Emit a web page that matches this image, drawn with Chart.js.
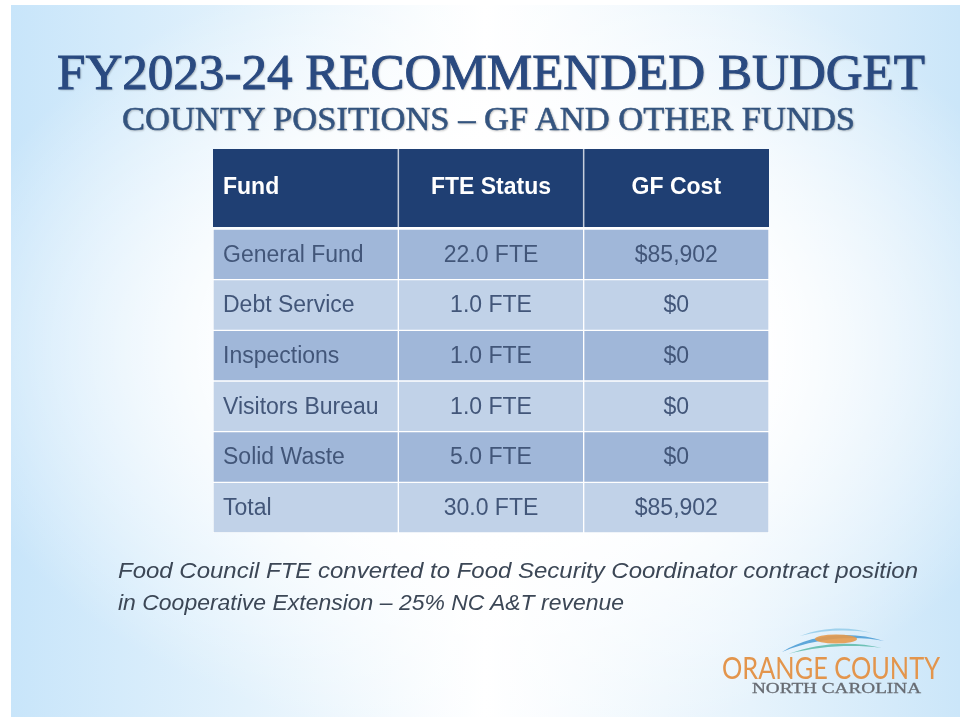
<!DOCTYPE html>
<html>
<head>
<meta charset="utf-8">
<script src="https://cdn.jsdelivr.net/npm/chart.js@4.4.1/dist/chart.umd.min.js"></script>
<style>
  html, body { margin: 0; padding: 0; background: #fff; }
  #page { position: relative; width: 960px; height: 717px; overflow: hidden; }
  #slide {
    position: absolute; left: 11px; top: 5px; width: 949px; height: 712px;
    background:
      radial-gradient(ellipse 60% 56% at 52% 48%, rgba(255,255,255,1) 45%, rgba(255,255,255,0) 100%),
      linear-gradient(90deg, #c8e5fa 0%, #e3f2fc 25%, #ffffff 50%, #e6f3fc 78%, #cbe6f9 100%);
  }
  canvas { position: absolute; left: 0; top: 0; }
  .txt { position: absolute; white-space: nowrap; line-height: 1; transform-origin: 0 0; }
  .title { font-family: "Liberation Serif", "Times New Roman", serif; font-weight: normal; color: #2a4a80;
           -webkit-text-stroke: 0.9px #2a4a80; text-shadow: 1px 1px 2px rgba(0,0,0,0.3); }
  .note { font-family: "Liberation Sans", Arial, sans-serif; font-style: italic; color: #3c4756; font-size: 22px; }
</style>
</head>
<body>
<div id="page">
  <div id="slide"></div>
  <canvas id="chart" width="960" height="717"></canvas>
  <div class="txt title" style="font-size:50px; top:47px;" data-l="57" data-w="868">FY2023-24 RECOMMENDED BUDGET</div>
  <div class="txt title" style="font-size:33px; top:103px; color:#34547f; -webkit-text-stroke:0.5px #34547f;" data-l="122" data-w="733">COUNTY POSITIONS – GF AND OTHER FUNDS</div>
  <div class="txt note" style="top:560px;" data-l="118" data-w="800">Food Council FTE converted to Food Security Coordinator contract position</div>
  <div class="txt note" style="top:592px;" data-l="118" data-w="506">in Cooperative Extension – 25% NC A&amp;T revenue</div>
  <svg style="position:absolute; left:780px; top:626px;" width="108" height="30" viewBox="0 0 108 30">
    <path d="M2 26 C 30 8, 72 4, 104 15 C 74 9, 36 12, 2 26 Z" fill="#4f9fd6" opacity="0.9"/>
    <path d="M8 28 C 40 16, 74 15, 102 22 C 72 18, 40 20, 8 28 Z" fill="#62bcae" opacity="0.9"/>
    <ellipse cx="56" cy="13" rx="21" ry="4.5" fill="#e69a4c" opacity="0.9"/>
    <path d="M20 10 C 45 0, 72 1, 92 7 C 68 3, 44 4, 20 10 Z" fill="#93cbe9" opacity="0.85"/>
  </svg>
  <div class="txt" style="top:652px; font-family: Lato, 'Open Sans', sans-serif; font-weight:400; font-size:31px; color:#e3954c;" data-l="722" data-w="218">ORANGE COUNTY</div>
  <div class="txt" style="top:681px; font-family: 'Liberation Serif', serif; font-size:15px; color:#676b72; -webkit-text-stroke:0.3px #676b72;" data-l="752" data-w="169">NORTH CAROLINA</div>
</div>
<script>
// table content
const columns = ['Fund', 'FTE Status', 'GF Cost'];
const funds = ['General Fund', 'Debt Service', 'Inspections', 'Visitors Bureau', 'Solid Waste', 'Total'];
const fteStatus = ['22.0 FTE', '1.0 FTE', '1.0 FTE', '1.0 FTE', '5.0 FTE', '30.0 FTE'];
const gfCost = ['$85,902', '$0', '$0', '$0', '$0', '$85,902'];

const cellText = [funds, fteStatus, gfCost];
const headerColor = '#1f3f73';
const darkRow = '#a0b7d9';
const lightRow = '#c1d2e8';
const bodyText = '#425679';

// fit the html texts to their widths
document.querySelectorAll('.txt[data-w]').forEach(el => {
  const w = el.getBoundingClientRect().width;
  el.style.left = el.dataset.l + 'px';
  el.style.transform = 'scaleX(' + (parseFloat(el.dataset.w) / w) + ')';
});

const headerPlugin = {
  id: 'header',
  beforeDatasetsDraw(chart) {
    const ctx = chart.ctx;
    const area = chart.chartArea;
    const x = chart.scales.x;
    const top = area.top - 80, bottom = area.top - 2;
    ctx.save();
    ctx.fillStyle = headerColor;
    ctx.fillRect(area.left, top, area.right - area.left, bottom - top);
    ctx.strokeStyle = 'rgba(255,255,255,0.75)';
    ctx.lineWidth = 1.5;
    for (let i = 1; i < columns.length; i++) {
      const px = x.getPixelForValue(i);
      ctx.beginPath();
      ctx.moveTo(px, top);
      ctx.lineTo(px, bottom);
      ctx.stroke();
    }
    ctx.fillStyle = '#ffffff';
    ctx.font = 'bold 23px "Liberation Sans", Arial, sans-serif';
    ctx.textBaseline = 'middle';
    columns.forEach((c, i) => {
      const l = x.getPixelForValue(i), r = x.getPixelForValue(i + 1);
      if (i === 0) {
        ctx.textAlign = 'left';
        ctx.fillText(c, l + 10, (top + bottom) / 2);
      } else {
        ctx.textAlign = 'center';
        ctx.fillText(c, (l + r) / 2, (top + bottom) / 2);
      }
    });
    ctx.restore();
  }
};

const cellTextPlugin = {
  id: 'cellText',
  afterDatasetsDraw(chart) {
    const ctx = chart.ctx;
    ctx.save();
    ctx.fillStyle = bodyText;
    ctx.font = '23px "Liberation Sans", Arial, sans-serif';
    ctx.textBaseline = 'middle';
    chart.data.datasets.forEach((ds, d) => {
      const meta = chart.getDatasetMeta(d);
      meta.data.forEach((bar, i) => {
        const p = bar.getProps(['x', 'y', 'base'], true);
        const l = Math.min(p.x, p.base), r = Math.max(p.x, p.base);
        if (d === 0) {
          ctx.textAlign = 'left';
          ctx.fillText(cellText[d][i], l + 10, p.y + 1);
        } else {
          ctx.textAlign = 'center';
          ctx.fillText(cellText[d][i], (l + r) / 2, p.y + 1);
        }
      });
    });
    ctx.restore();
  }
};

new Chart(document.getElementById('chart'), {
  type: 'bar',
  data: {
    labels: funds,
    datasets: columns.map((c, i) => ({
      label: c,
      data: funds.map(() => [i, i + 1]),
      grouped: false,
      categoryPercentage: 1,
      barPercentage: 1,
      backgroundColor: ctx => (ctx.dataIndex % 2 === 0 ? darkRow : lightRow),
      borderColor: 'rgba(255,255,255,0.85)',
      borderWidth: 1,
      borderSkipped: false
    }))
  },
  options: {
    indexAxis: 'y',
    responsive: false,
    animation: false,
    layout: { padding: { left: 213, right: 191, top: 229, bottom: 184 } },
    scales: {
      x: { type: 'linear', min: 0, max: 3, display: false },
      y: { type: 'category', display: false }
    },
    plugins: {
      legend: { display: false },
      tooltip: { enabled: false }
    }
  },
  plugins: [headerPlugin, cellTextPlugin]
});
</script>
</body>
</html>
